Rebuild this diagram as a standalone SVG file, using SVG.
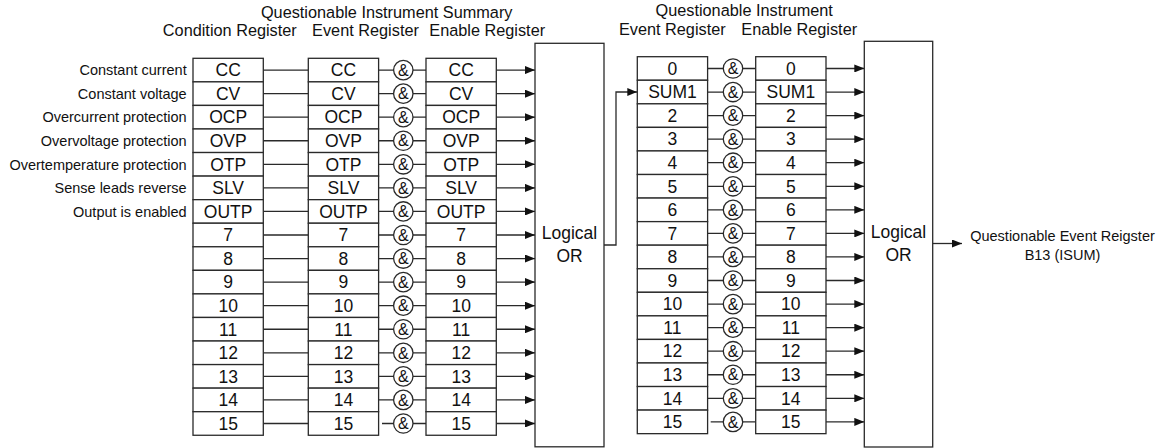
<svg xmlns="http://www.w3.org/2000/svg" width="1168" height="448" viewBox="0 0 1168 448">
<style>
text{font-family:"Liberation Sans",Arial,sans-serif;fill:#111}
.hd{font-size:16.3px;text-anchor:middle}
.lb{font-size:14.5px;text-anchor:end}
.rg{font-size:17.5px;text-anchor:middle}
.or{font-size:17.5px;text-anchor:middle}
.out{font-size:14.5px;text-anchor:middle}
.amp{font-size:16px;text-anchor:middle}
rect,circle{fill:#fff;stroke:#2a2a2a;stroke-width:1.3}
line,path{stroke:#2a2a2a;stroke-width:1.3;fill:none}
.a{marker-end:url(#arr)}
</style>
<defs>
<marker id="arr" markerWidth="10" markerHeight="8" refX="10" refY="4" orient="auto" markerUnits="userSpaceOnUse"><path d="M0,0 L10,4 L0,8 z" style="fill:#111;stroke:none"/></marker>
<g id="rows16">
<rect x="0" y="0" width="70.3" height="23.56"/><rect x="0" y="23.56" width="70.3" height="23.56"/><rect x="0" y="47.12" width="70.3" height="23.56"/><rect x="0" y="70.68" width="70.3" height="23.56"/><rect x="0" y="94.24" width="70.3" height="23.56"/><rect x="0" y="117.8" width="70.3" height="23.56"/><rect x="0" y="141.36" width="70.3" height="23.56"/><rect x="0" y="164.92" width="70.3" height="23.56"/><rect x="0" y="188.48" width="70.3" height="23.56"/><rect x="0" y="212.04" width="70.3" height="23.56"/><rect x="0" y="235.6" width="70.3" height="23.56"/><rect x="0" y="259.16" width="70.3" height="23.56"/><rect x="0" y="282.72" width="70.3" height="23.56"/><rect x="0" y="306.28" width="70.3" height="23.56"/><rect x="0" y="329.84" width="70.3" height="23.56"/><rect x="0" y="353.4" width="70.3" height="23.56"/>
</g>
<g id="gates16">
<circle cx="0" cy="11.78" r="9.7"/><text class="amp" x="0" y="17.5">&amp;</text>
<circle cx="0" cy="35.34" r="9.7"/><text class="amp" x="0" y="41.06">&amp;</text>
<circle cx="0" cy="58.9" r="9.7"/><text class="amp" x="0" y="64.62">&amp;</text>
<circle cx="0" cy="82.46" r="9.7"/><text class="amp" x="0" y="88.18">&amp;</text>
<circle cx="0" cy="106.02" r="9.7"/><text class="amp" x="0" y="111.74">&amp;</text>
<circle cx="0" cy="129.58" r="9.7"/><text class="amp" x="0" y="135.3">&amp;</text>
<circle cx="0" cy="153.14" r="9.7"/><text class="amp" x="0" y="158.86">&amp;</text>
<circle cx="0" cy="176.7" r="9.7"/><text class="amp" x="0" y="182.42">&amp;</text>
<circle cx="0" cy="200.26" r="9.7"/><text class="amp" x="0" y="205.98">&amp;</text>
<circle cx="0" cy="223.82" r="9.7"/><text class="amp" x="0" y="229.54">&amp;</text>
<circle cx="0" cy="247.38" r="9.7"/><text class="amp" x="0" y="253.1">&amp;</text>
<circle cx="0" cy="270.94" r="9.7"/><text class="amp" x="0" y="276.66">&amp;</text>
<circle cx="0" cy="294.5" r="9.7"/><text class="amp" x="0" y="300.22">&amp;</text>
<circle cx="0" cy="318.06" r="9.7"/><text class="amp" x="0" y="323.78">&amp;</text>
<circle cx="0" cy="341.62" r="9.7"/><text class="amp" x="0" y="347.34">&amp;</text>
<circle cx="0" cy="365.18" r="9.7"/><text class="amp" x="0" y="370.9">&amp;</text>
</g>
<g id="numtext">
<text class="rg" x="35.15" y="183">7</text><text class="rg" x="35.15" y="206.56">8</text><text class="rg" x="35.15" y="230.12">9</text><text class="rg" x="35.15" y="253.68">10</text><text class="rg" x="35.15" y="277.24">11</text><text class="rg" x="35.15" y="300.8">12</text><text class="rg" x="35.15" y="324.36">13</text><text class="rg" x="35.15" y="347.92">14</text><text class="rg" x="35.15" y="371.48">15</text>
</g>
<g id="qstext">
<text class="rg" x="35.15" y="18.08">CC</text><text class="rg" x="35.15" y="41.64">CV</text><text class="rg" x="35.15" y="65.2">OCP</text><text class="rg" x="35.15" y="88.76">OVP</text><text class="rg" x="35.15" y="112.32">OTP</text><text class="rg" x="35.15" y="135.88">SLV</text><text class="rg" x="35.15" y="159.44">OUTP</text>
</g>
<g id="qitext">
<text class="rg" x="35.15" y="18.08">0</text><text class="rg" x="35.15" y="41.64">SUM1</text><text class="rg" x="35.15" y="65.2">2</text><text class="rg" x="35.15" y="88.76">3</text><text class="rg" x="35.15" y="112.32">4</text><text class="rg" x="35.15" y="135.88">5</text><text class="rg" x="35.15" y="159.44">6</text>
</g>
</defs>

<g id="headers">
<text class="hd" x="386.7" y="18">Questionable Instrument Summary</text>
<text class="hd" x="229.8" y="36">Condition Register</text>
<text class="hd" x="365.5" y="36">Event Register</text>
<text class="hd" x="487.2" y="36">Enable Register</text>
<text class="hd" x="744.2" y="16">Questionable Instrument</text>
<text class="hd" x="672.3" y="35">Event Register</text>
<text class="hd" x="799.2" y="35">Enable Register</text>
</g>

<g id="labels">
<text class="lb" x="186.7" y="75.3">Constant current</text>
<text class="lb" x="186.7" y="98.86">Constant voltage</text>
<text class="lb" x="186.7" y="122.42">Overcurrent protection</text>
<text class="lb" x="186.7" y="145.98">Overvoltage protection</text>
<text class="lb" x="186.7" y="169.54">Overtemperature protection</text>
<text class="lb" x="186.7" y="193.1">Sense leads reverse</text>
<text class="lb" x="186.7" y="216.66">Output is enabled</text>
</g>

<g id="connectors">
<g transform="translate(0,58.3)">
<path d="M263.3,11.78H308.3M263.3,35.34H308.3M263.3,58.9H308.3M263.3,82.46H308.3M263.3,106.02H308.3M263.3,129.58H308.3M263.3,153.14H308.3M263.3,176.7H308.3M263.3,200.26H308.3M263.3,223.82H308.3M263.3,247.38H308.3M263.3,270.94H308.3M263.3,294.5H308.3M263.3,318.06H308.3M263.3,341.62H308.3M263.3,365.18H308.3"/>
<path d="M379,11.78H393.6M379,35.34H393.6M379,58.9H393.6M379,82.46H393.6M379,106.02H393.6M379,129.58H393.6M379,153.14H393.6M379,176.7H393.6M379,200.26H393.6M379,223.82H393.6M379,247.38H393.6M379,270.94H393.6M379,294.5H393.6M379,318.06H393.6M379,341.62H393.6M382,365.18H393.6"/>
<path d="M413,11.78H426M413,35.34H426M413,58.9H426M413,82.46H426M413,106.02H426M413,129.58H426M413,153.14H426M413,176.7H426M413,200.26H426M413,223.82H426M413,247.38H426M413,270.94H426M413,294.5H426M413,318.06H426M413,341.62H426M413,365.18H426"/>
<line class="a" x1="496" y1="11.78" x2="535" y2="11.78"/><line class="a" x1="496" y1="35.34" x2="535" y2="35.34"/><line class="a" x1="496" y1="58.9" x2="535" y2="58.9"/><line class="a" x1="496" y1="82.46" x2="535" y2="82.46"/><line class="a" x1="496" y1="106.02" x2="535" y2="106.02"/><line class="a" x1="496" y1="129.58" x2="535" y2="129.58"/><line class="a" x1="496" y1="153.14" x2="535" y2="153.14"/><line class="a" x1="496" y1="176.7" x2="535" y2="176.7"/><line class="a" x1="496" y1="200.26" x2="535" y2="200.26"/><line class="a" x1="496" y1="223.82" x2="535" y2="223.82"/><line class="a" x1="496" y1="247.38" x2="535" y2="247.38"/><line class="a" x1="496" y1="270.94" x2="535" y2="270.94"/><line class="a" x1="496" y1="294.5" x2="535" y2="294.5"/><line class="a" x1="496" y1="318.06" x2="535" y2="318.06"/><line class="a" x1="496" y1="341.62" x2="535" y2="341.62"/><line class="a" x1="496" y1="365.18" x2="535" y2="365.18"/>
</g>
<g transform="translate(0,56.7)">
<path d="M707.3,11.78H723.3M707.3,35.34H723.3M707.3,58.9H723.3M707.3,82.46H723.3M707.3,106.02H723.3M707.3,129.58H723.3M707.3,153.14H723.3M707.3,176.7H723.3M707.3,200.26H723.3M707.3,223.82H723.3M707.3,247.38H723.3M707.3,270.94H723.3M707.3,294.5H723.3M707.3,318.06H723.3M707.3,341.62H723.3M710.7,365.18H723.3"/>
<path d="M742.7,11.78H755.7M742.7,35.34H755.7M742.7,58.9H755.7M742.7,82.46H755.7M742.7,106.02H755.7M742.7,129.58H755.7M742.7,153.14H755.7M742.7,176.7H755.7M742.7,200.26H755.7M742.7,223.82H755.7M742.7,247.38H755.7M742.7,270.94H755.7M742.7,294.5H755.7M742.7,318.06H755.7M742.7,341.62H755.7M742.7,365.18H755.7"/>
<line class="a" x1="825.7" y1="11.78" x2="864.3" y2="11.78"/><line class="a" x1="825.7" y1="35.34" x2="864.3" y2="35.34"/><line class="a" x1="825.7" y1="58.9" x2="864.3" y2="58.9"/><line class="a" x1="825.7" y1="82.46" x2="864.3" y2="82.46"/><line class="a" x1="825.7" y1="106.02" x2="864.3" y2="106.02"/><line class="a" x1="825.7" y1="129.58" x2="864.3" y2="129.58"/><line class="a" x1="825.7" y1="153.14" x2="864.3" y2="153.14"/><line class="a" x1="825.7" y1="176.7" x2="864.3" y2="176.7"/><line class="a" x1="825.7" y1="200.26" x2="864.3" y2="200.26"/><line class="a" x1="825.7" y1="223.82" x2="864.3" y2="223.82"/><line class="a" x1="825.7" y1="247.38" x2="864.3" y2="247.38"/><line class="a" x1="825.7" y1="270.94" x2="864.3" y2="270.94"/><line class="a" x1="825.7" y1="294.5" x2="864.3" y2="294.5"/><line class="a" x1="825.7" y1="318.06" x2="864.3" y2="318.06"/><line class="a" x1="825.7" y1="341.62" x2="864.3" y2="341.62"/><line class="a" x1="825.7" y1="365.18" x2="864.3" y2="365.18"/>
</g>
<path class="a" d="M604,245H616V92H637.3"/>
<line class="a" x1="932.7" y1="243.5" x2="962" y2="243.5"/>
</g>

<g id="summary-condition-register" transform="translate(193,58.3)"><use href="#rows16"/><use href="#qstext"/><use href="#numtext"/></g>
<g id="summary-event-register" transform="translate(308.3,58.3)"><use href="#rows16"/><use href="#qstext"/><use href="#numtext"/></g>
<g id="summary-and-gates" transform="translate(403.3,58.3)"><use href="#gates16"/></g>
<g id="summary-enable-register" transform="translate(426,58.3)"><use href="#rows16"/><use href="#qstext"/><use href="#numtext"/></g>
<g id="summary-logical-or"><rect x="535" y="43.3" width="69" height="403.5"/><text class="or" x="569.5" y="239">Logical</text><text class="or" x="569.5" y="261.5">OR</text></g>

<g id="instrument-event-register" transform="translate(637.3,56.7)"><use href="#rows16"/><use href="#qitext"/><use href="#numtext"/></g>
<g id="instrument-and-gates" transform="translate(733,56.7)"><use href="#gates16"/></g>
<g id="instrument-enable-register" transform="translate(755.7,56.7)"><use href="#rows16"/><use href="#qitext"/><use href="#numtext"/></g>
<g id="instrument-logical-or"><rect x="864.3" y="41.3" width="68.4" height="405.7"/><text class="or" x="898.5" y="238">Logical</text><text class="or" x="898.5" y="260.5">OR</text></g>

<g id="output-label">
<text class="out" x="1062.5" y="241">Questionable Event Reigster</text>
<text class="out" x="1062.5" y="259.5">B13 (ISUM)</text>
</g>
</svg>
